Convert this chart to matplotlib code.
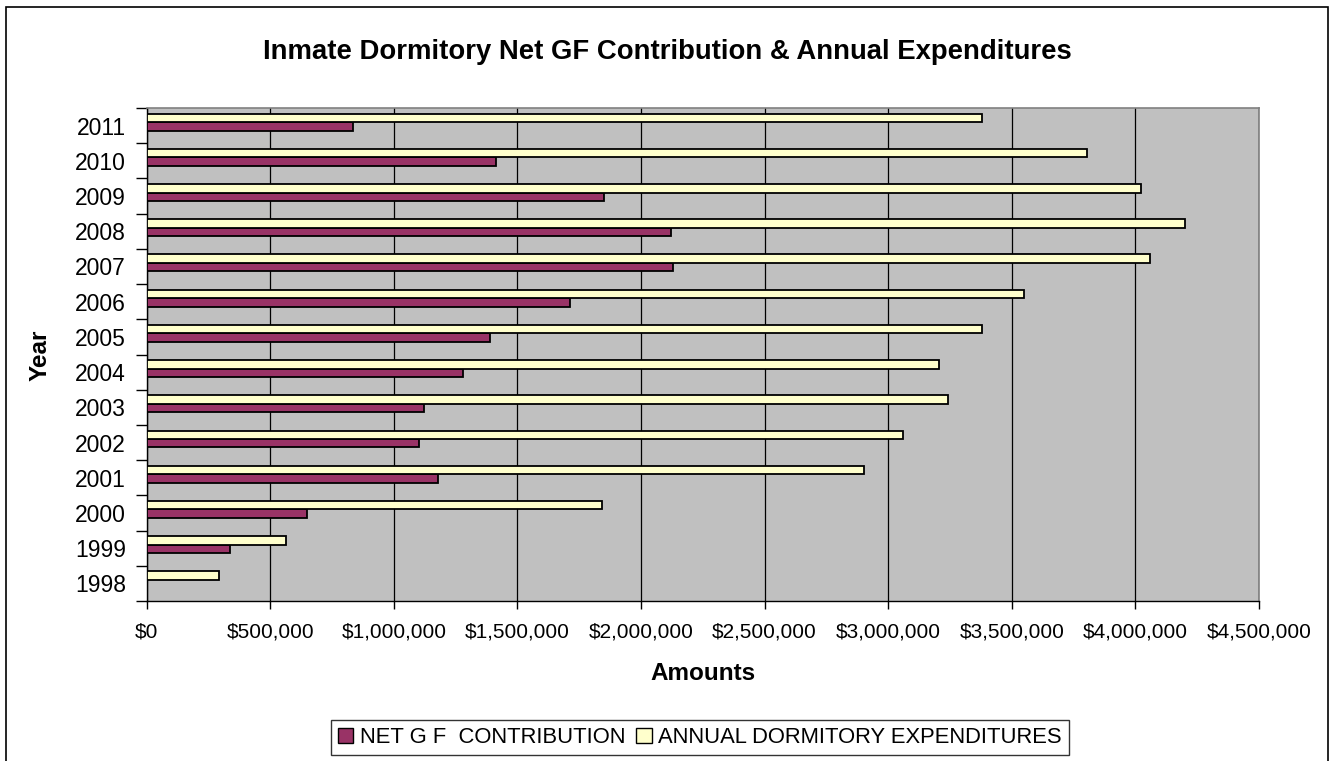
import numpy as np
import matplotlib
matplotlib.use("Agg")
import matplotlib.pyplot as plt
from matplotlib.patches import Rectangle, Patch
from matplotlib.ticker import FuncFormatter, FixedLocator

plt.rcParams['font.family'] = ['Liberation Sans', 'DejaVu Sans']

years = ["1998", "1999", "2000", "2001", "2002", "2003", "2004",
         "2005", "2006", "2007", "2008", "2009", "2010", "2011"]
net_gf_contribution = [0, 338000, 647000, 1177000, 1100000, 1123000, 1281000,
                       1389000, 1712000, 2130000, 2121000, 1849000, 1412000, 836000]
annual_expenditures = [292000, 563000, 1843000, 2901000, 3060000, 3241000, 3204000,
                       3379000, 3551000, 4059000, 4202000, 4021000, 3803000, 3379000]
x_ticks = [0, 500000, 1000000, 1500000, 2000000, 2500000, 3000000, 3500000, 4000000, 4500000]

W, H = 1333, 761
fig = plt.figure(figsize=(W / 100, H / 100), dpi=100)
fig.patch.set_facecolor("white")

# outer chart frame
fig.patches.append(Rectangle((6 / W, -0.05), (1328 - 6) / W, 1.05 - 7 / H,
                             transform=fig.transFigure, fill=False,
                             edgecolor="black", linewidth=1.2))

left, right, top, bottom = 146.7, 1259, 108, 601
ax = fig.add_axes([left / W, 1 - bottom / H, (right - left) / W, (bottom - top) / H])
ax.set_facecolor("#C0C0C0")

pos = np.arange(len(years))
bar_h = 0.24
net = np.array(net_gf_contribution, dtype=float)
exp_ = np.array(annual_expenditures, dtype=float)
mask = net > 0
ax.barh(pos[mask] - bar_h / 2 + 0.1, net[mask], height=bar_h, color="#993366",
        edgecolor="black", linewidth=1.3, zorder=3)
ax.barh(pos + bar_h / 2 + 0.1, exp_, height=bar_h, color="#FFFFCC",
        edgecolor="black", linewidth=1.3, zorder=3)

ax.set_xlim(0, 4500000)
ax.set_ylim(-0.5, len(years) - 0.5)

ax.xaxis.set_major_locator(FixedLocator(x_ticks))
ax.xaxis.set_major_formatter(FuncFormatter(lambda v, p: "${:,.0f}".format(v)))
ax.grid(axis="x", color="black", linewidth=0.9, zorder=1)
ax.set_axisbelow(True)

# category boundaries carry the tick marks, centres carry the labels
ax.yaxis.set_major_locator(FixedLocator(np.arange(len(years) + 1) - 0.5))
ax.yaxis.set_major_formatter(FuncFormatter(lambda v, p: ""))
ax.yaxis.set_minor_locator(FixedLocator(pos))
ax.set_yticklabels(years, minor=True)
ax.tick_params(axis="y", which="major", length=8, width=1, color="black", direction="out")
ax.tick_params(axis="y", which="minor", length=0, pad=15, labelsize=16.5)
ax.tick_params(axis="x", which="major", length=6, width=1, color="black",
               direction="out", pad=9.5, labelsize=15)

for s in ["top", "right"]:
    ax.spines[s].set_color("#808080")
    ax.spines[s].set_linewidth(1.2)
for s in ["left", "bottom"]:
    ax.spines[s].set_color("black")
    ax.spines[s].set_linewidth(1.0)

fig.text(667 / W, 1 - 52 / H, "Inmate Dormitory Net GF Contribution & Annual Expenditures",
         ha="center", va="center", fontsize=19.8, fontweight="bold")
fig.text(703 / W, 1 - 673 / H, "Amounts", ha="center", va="center",
         fontsize=17.5, fontweight="bold")
fig.text(40 / W, 1 - 355 / H, "Year", ha="center", va="center", rotation=90,
         fontsize=17.5, fontweight="bold")

handles = [Patch(facecolor="#993366", edgecolor="black", linewidth=1.0),
           Patch(facecolor="#FFFFCC", edgecolor="black", linewidth=1.0)]
leg = fig.legend(handles, ["NET G F  CONTRIBUTION", "ANNUAL DORMITORY EXPENDITURES"],
                 loc="center", bbox_to_anchor=(700 / W, 1 - 737.5 / H), ncol=2,
                 fontsize=15.8, frameon=True, fancybox=False, edgecolor="black",
                 handlelength=0.7, handleheight=0.7, handletextpad=0.3,
                 columnspacing=0.5, borderpad=0.3, borderaxespad=0)
leg.get_frame().set_linewidth(1.0)

fig.savefig("out.png", dpi=100, facecolor="white")
